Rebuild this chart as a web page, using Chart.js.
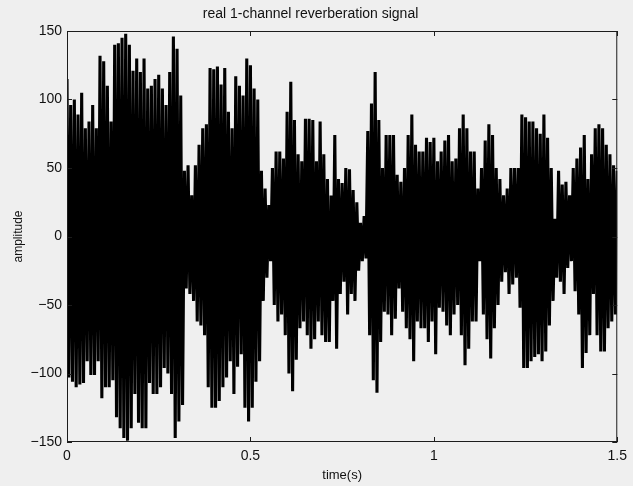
<!DOCTYPE html>
<html>
<head>
<meta charset="utf-8">
<script src="https://cdn.jsdelivr.net/npm/chart.js@4"></script>
<style>
  html, body { margin: 0; padding: 0; background: #efefef; }
  canvas { display: block; }
</style>
</head>
<body>
<canvas id="signal" width="633" height="486"></canvas>
<script>
// envelope of the waveform, one positive / negative swing every 10 ms
var step = 0.01;

var peaks = [
  115, 96, 100, 89, 105, 79, 84, 96, 79, 132, 128, 110, 84, 140, 141, 145, 148, 140, 121, 130, 120, 130, 108, 110, 115,
  118, 108, 96, 120, 146, 137, 103, 48, 52, 30, 52, 67, 79, 82, 123, 122, 124, 111, 123, 91, 79, 117, 110, 103, 130,
  125, 108, 100, 48, 35, 23, 50, 62, 62, 57, 91, 113, 85, 60, 55, 86, 86, 85, 55, 84, 60, 42, 30, 74, 42,
  39, 50, 49, 34, 25, 10, 15, 77, 97, 120, 85, 50, 74, 74, 74, 45, 40, 50, 74, 89, 67, 62, 62, 72, 69,
  72, 55, 62, 70, 74, 55, 57, 79, 89, 79, 62, 62, 35, 50, 70, 82, 74, 50, 42, 30, 35, 50, 50, 50, 89,
  87, 84, 84, 79, 75, 89, 72, 50, 13, 48, 38, 40, 30, 50, 57, 65, 74, 42, 60, 79, 82, 79, 67, 60, 52, 48
];

var troughs = [
  -103, -106, -110, -108, -107, -91, -101, -101, -91, -118, -110, -110, -105, -132, -140, -147, -149, -140, -115, -136, -140, -140, -107, -115, -115,
  -110, -96, -100, -115, -147, -135, -123, -38, -42, -47, -62, -65, -72, -110, -125, -125, -120, -110, -103, -91, -115, -95, -86, -125, -135,
  -125, -106, -91, -47, -30, -18, -50, -62, -57, -72, -100, -113, -90, -67, -62, -72, -82, -75, -62, -72, -77, -77, -47, -82, -42,
  -33, -57, -42, -47, -25, -18, -16, -72, -105, -114, -77, -55, -57, -72, -60, -38, -55, -67, -75, -91, -62, -67, -67, -77, -62,
  -86, -52, -55, -65, -72, -57, -50, -72, -94, -82, -62, -62, -18, -57, -75, -89, -67, -50, -33, -26, -42, -35, -30, -52, -96,
  -96, -91, -88, -86, -91, -84, -65, -47, -30, -33, -42, -23, -18, -40, -57, -96, -85, -72, -42, -72, -84, -84, -67, -62, -57, -57
];

var xTicks = [0, 0.5, 1, 1.5];
var yTicks = [-150, -100, -50, 0, 50, 100, 150];

var points = [];
for (var i = 0; i < peaks.length; i++) {
    points.push({x: i * step, y: peaks[i]});
    points.push({x: i * step + step / 2, y: troughs[i]});
}

var fontFamily = "'Liberation Sans', Arial, Helvetica, sans-serif";

// MATLAB style box with ticks pointing inwards
var frame = {
    id: 'frame',
    afterDatasetsDraw: function(chart) {
        var ctx = chart.ctx, a = chart.chartArea;
        var xs = chart.scales.x, ys = chart.scales.y;
        ctx.save();
        ctx.strokeStyle = '#1c1c1c';
        ctx.lineWidth = 1;
        ctx.strokeRect(a.left + 0.5, a.top + 0.5, a.width - 1, a.height - 1);
        ctx.beginPath();
        xs.ticks.forEach(function(t) {
            var px = Math.round(xs.getPixelForValue(t.value)) + 0.5;
            ctx.moveTo(px, a.top); ctx.lineTo(px, a.top + 5);
            ctx.moveTo(px, a.bottom); ctx.lineTo(px, a.bottom - 5);
        });
        ys.ticks.forEach(function(t) {
            var py = Math.round(ys.getPixelForValue(t.value)) + 0.5;
            ctx.moveTo(a.left, py); ctx.lineTo(a.left + 5, py);
            ctx.moveTo(a.right, py); ctx.lineTo(a.right - 5, py);
        });
        ctx.stroke();
        ctx.restore();
    }
};

new Chart(document.getElementById('signal'), {
    type: 'line',
    data: {
        datasets: [{
            data: points,
            borderColor: '#000',
            borderWidth: 3.1,
            borderJoinStyle: 'bevel',
            pointRadius: 0,
            tension: 0,
            fill: false
        }]
    },
    options: {
        responsive: false,
        animation: false,
        events: [],
        layout: {padding: {left: 0, right: 12, top: 0, bottom: 0}},
        plugins: {
            legend: {display: false},
            tooltip: {enabled: false},
            title: {
                display: true,
                text: 'real 1-channel reverberation signal',
                color: '#111',
                font: {family: fontFamily, size: 14, weight: 'normal', lineHeight: 1.2},
                padding: {top: 6, bottom: 8.2}
            }
        },
        scales: {
            x: {
                type: 'linear',
                min: 0, max: 1.5,
                afterFit: function(s) { s.height = 44; },
                afterBuildTicks: function(s) { s.ticks = xTicks.map(function(v) { return {value: v}; }); },
                grid: {display: false, drawTicks: false},
                border: {display: false},
                ticks: {
                    color: '#111', padding: 6, maxRotation: 0,
                    font: {family: fontFamily, size: 14},
                    callback: function(v) { return String(v); }
                },
                title: {
                    display: true, text: 'time(s)', color: '#111',
                    font: {family: fontFamily, size: 13, lineHeight: 1.2},
                    padding: {top: 0, bottom: 3}
                }
            },
            y: {
                min: -150, max: 150,
                afterFit: function(s) { s.width = 67; },
                afterBuildTicks: function(s) { s.ticks = yTicks.map(function(v) { return {value: v}; }); },
                grid: {display: false, drawTicks: false},
                border: {display: false},
                ticks: {
                    color: '#111', padding: 5,
                    font: {family: fontFamily, size: 14},
                    callback: function(v) { return String(v).replace('-', '\u2212'); }
                },
                title: {
                    display: true, text: 'amplitude', color: '#111',
                    font: {family: fontFamily, size: 12, lineHeight: 1.2},
                    padding: {top: 11, bottom: 0}
                }
            }
        }
    },
    plugins: [frame]
});
</script>
</body>
</html>
